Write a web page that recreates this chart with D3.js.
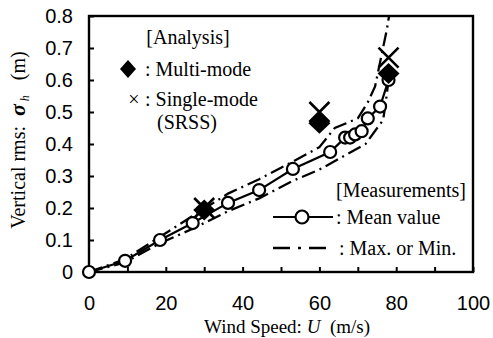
<!DOCTYPE html>
<html>
<head>
<meta charset="utf-8">
<script src="https://cdn.jsdelivr.net/npm/d3@7"></script>
<style>
  body { margin: 0; background: #fff; }
  .serif { font-family: "Liberation Serif", "Times New Roman", serif; }
  .tick text { font-family: "Liberation Sans", Arial, sans-serif; font-size: 20px; fill: #000; }
</style>
</head>
<body>
<svg width="493" height="338"></svg>
<script>
let meanU = [0, 9.4, 18.5, 27, 36.2, 44.3, 53.1, 62.8, 66.7, 68, 69.3, 71, 72.6, 75.8, 78];
let meanV = [0, 0.035, 0.1, 0.153, 0.216, 0.256, 0.322, 0.375, 0.42, 0.42, 0.43, 0.44, 0.48, 0.517, 0.6];

let maxU = [0, 9.4, 18.5, 27, 36.2, 44.3, 53.1, 60, 64, 67, 70, 72.6, 74.5, 77.6, 78.4];
let maxV = [0, 0.04, 0.11, 0.175, 0.245, 0.29, 0.345, 0.39, 0.45, 0.465, 0.48, 0.53, 0.58, 0.76, 0.82];

let minU = [0, 9.4, 18.5, 27, 36.2, 44.3, 53.1, 60, 64.5, 72, 76.6, 77.5, 78];
let minV = [0, 0.03, 0.09, 0.135, 0.19, 0.23, 0.285, 0.32, 0.35, 0.4, 0.475, 0.55, 0.6];

// Analysis results
let anaU = [30, 60, 78];
let multiV = [0.194, 0.465, 0.62];
let singleV = [0.2, 0.5, 0.67];

let xTicks = [0, 10, 20, 30, 40, 50, 60, 70, 80, 90, 100];
let yTicks = [0, 0.1, 0.2, 0.3, 0.4, 0.5, 0.6, 0.7, 0.8];

let margin = { left: 89, right: 473, top: 16, bottom: 272 };

let svg = d3.select("svg");

let x = d3.scaleLinear().domain([0, 100]).range([margin.left, margin.right]);
let y = d3.scaleLinear().domain([0, 0.8]).range([margin.bottom, margin.top]);

// clip for lines that run past the frame
svg.append("clipPath").attr("id", "plot")
    .append("rect")
    .attr("x", margin.left).attr("y", margin.top)
    .attr("width", margin.right - margin.left).attr("height", margin.bottom - margin.top);

// axes, ticks pointing inward
svg.append("g")
    .attr("transform", "translate(0," + margin.bottom + ")")
    .call(d3.axisBottom(x)
        .tickValues(xTicks)
        .tickSizeInner(-5)
        .tickSizeOuter(0)
        .tickPadding(24)
        .tickFormat(function (d) { return d % 20 === 0 ? d : ""; }));

svg.append("g")
    .attr("transform", "translate(" + margin.left + ",0)")
    .call(d3.axisLeft(y)
        .tickValues(yTicks)
        .tickSizeInner(-5)
        .tickSizeOuter(0)
        .tickPadding(16)
        .tickFormat(function (d) { return d === 0 ? "0" : d3.format(".1f")(d); }));

svg.selectAll(".domain").remove();
svg.selectAll(".tick line").attr("stroke", "#000").attr("stroke-width", 2);

// frame
svg.append("rect")
    .attr("x", margin.left).attr("y", margin.top)
    .attr("width", margin.right - margin.left).attr("height", margin.bottom - margin.top)
    .attr("fill", "none")
    .attr("stroke", "#000")
    .attr("stroke-width", 2.4);

let line = d3.line()
    .x(function (d) { return x(d[0]); })
    .y(function (d) { return y(d[1]); });

let plot = svg.append("g").attr("clip-path", "url(#plot)");

// max / min envelopes
[[maxU, maxV], [minU, minV]].forEach(function (s) {
    plot.append("path")
        .datum(d3.zip(s[0], s[1]))
        .attr("d", line)
        .attr("fill", "none")
        .attr("stroke", "#000")
        .attr("stroke-width", 2.3)
        .attr("stroke-dasharray", "14,5,2,5");
});

// mean line and circles
let mean = d3.zip(meanU, meanV);
svg.append("path")
    .datum(mean)
    .attr("d", line)
    .attr("fill", "none")
    .attr("stroke", "#000")
    .attr("stroke-width", 2.2);

svg.append("g")
    .selectAll("circle")
    .data(mean)
    .enter().append("circle")
    .attr("cx", function (d) { return x(d[0]); })
    .attr("cy", function (d) { return y(d[1]); })
    .attr("r", 6)
    .attr("fill", "#fff")
    .attr("stroke", "#000")
    .attr("stroke-width", 2.2);

// single-mode crosses
svg.append("g")
    .selectAll("path")
    .data(d3.zip(anaU, singleV))
    .enter().append("path")
    .attr("d", function (d) {
        let cx = x(d[0]), cy = y(d[1]), r = 10;
        return "M" + (cx - r) + "," + (cy - r) + "L" + (cx + r) + "," + (cy + r) +
            "M" + (cx + r) + "," + (cy - r) + "L" + (cx - r) + "," + (cy + r);
    })
    .attr("stroke", "#000")
    .attr("stroke-width", 2.6)
    .attr("fill", "none");

// multi-mode diamonds
function diamond(cx, cy, w, h) {
    return "M" + cx + "," + (cy - h) + "L" + (cx + w) + "," + cy +
        "L" + cx + "," + (cy + h) + "L" + (cx - w) + "," + cy + "Z";
}

svg.append("g")
    .selectAll("path")
    .data(d3.zip(anaU, multiV))
    .enter().append("path")
    .attr("d", function (d) { return diamond(x(d[0]), y(d[1]), 11, 10.5); })
    .attr("fill", "#000");

// legend: analysis
let serif = svg.append("g").attr("class", "serif").attr("font-size", 20).attr("fill", "#000");

serif.append("text").attr("x", 188).attr("y", 44).attr("text-anchor", "middle").text("[Analysis]");
serif.append("path").attr("d", diamond(128, 69, 8, 9)).attr("fill", "#000");
serif.append("text").attr("x", 145).attr("y", 76).text(": Multi-mode");
serif.append("text").attr("x", 134).attr("y", 106).attr("text-anchor", "middle").text("×");
serif.append("text").attr("x", 145).attr("y", 106).text(": Single-mode");
serif.append("text").attr("x", 187).attr("y", 129).attr("text-anchor", "middle").text("(SRSS)");

// legend: measurements
serif.append("text").attr("x", 466).attr("y", 197).attr("text-anchor", "end").text("[Measurements]");
serif.append("line").attr("x1", 273).attr("x2", 333).attr("y1", 217).attr("y2", 217)
    .attr("stroke", "#000").attr("stroke-width", 2.2);
serif.append("circle").attr("cx", 302).attr("cy", 217).attr("r", 6.5)
    .attr("fill", "#fff").attr("stroke", "#000").attr("stroke-width", 2.2);
serif.append("text").attr("x", 336).attr("y", 224).text(": Mean value");
serif.append("line").attr("x1", 273).attr("x2", 326).attr("y1", 248).attr("y2", 248)
    .attr("stroke", "#000").attr("stroke-width", 2.3).attr("stroke-dasharray", "17,8,3,8");
serif.append("text").attr("x", 339).attr("y", 255).text(": Max. or Min.");

// axis titles
let xt = serif.append("text").attr("x", 287).attr("y", 333).attr("text-anchor", "middle").attr("font-size", 19);
xt.append("tspan").text("Wind Speed: ");
xt.append("tspan").attr("font-style", "italic").text("U");
xt.append("tspan").text("\u00a0 (m/s)");

let yt = serif.append("text")
    .attr("transform", "translate(25,140) rotate(-90)")
    .attr("text-anchor", "middle")
    .attr("font-size", 20);
yt.append("tspan").text("Vertical rms:\u00a0 ");
yt.append("tspan").attr("font-style", "italic").attr("font-weight", "bold").attr("font-size", 22).text("σ");
yt.append("tspan").attr("font-style", "italic").attr("font-size", 12).attr("dy", 4).text(" h");
yt.append("tspan").attr("dy", -4).text("\u00a0\u00a0 (m)");
</script>
</body>
</html>
